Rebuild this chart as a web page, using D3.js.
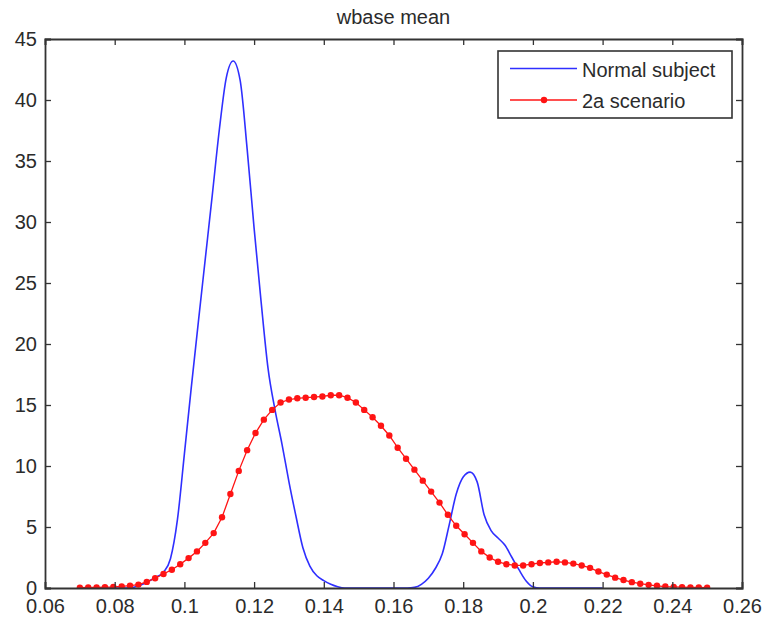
<!DOCTYPE html>
<html>
<head>
<meta charset="utf-8">
<script src="https://cdn.jsdelivr.net/npm/d3@7"></script>
<style>
  html, body { margin: 0; padding: 0; background: #fff; }
  svg { display: block; }
  text { font-family: "Liberation Sans", Arial, sans-serif; fill: #2b2b2b; }
</style>
</head>
<body>
<svg id="chart" width="764" height="624"></svg>
<script>
// Density estimates of wbase mean for the two groups
const titleText = "wbase mean";
const seriesNames = ["Normal subject", "2a scenario"];

const normalX = [0.070,0.072,0.074,0.076,0.078,0.080,0.082,0.084,0.086,0.088,0.090,0.092,0.094,0.096,0.098,
  0.100,0.102,0.104,0.106,0.108,0.110,0.112,0.114,0.116,0.118,0.120,0.122,0.124,0.126,0.128,0.130,
  0.132,0.134,0.136,0.138,0.140,0.142,0.144,0.146,0.148,0.150,0.152,0.154,0.156,0.158,0.160,0.162,
  0.164,0.166,0.168,0.170,0.172,0.174,0.176,0.178,0.180,0.182,0.184,0.186,0.188,0.190,0.192,0.194,
  0.196,0.198,0.200,0.202,0.204,0.206,0.208,0.210,0.212,0.214,0.216,0.218,0.220];
const normalY = [0,0,0,0,0,0,0,0,0.1,0.3,0.6,0.9,1.3,2.4,5.6,
  11.0,16.5,21.8,27.0,32.2,37.5,41.8,43.2,41.6,36.0,29.5,23.5,18.0,14.6,11.8,8.7,
  5.9,3.3,1.8,1.0,0.6,0.3,0.1,0,0,0,0,0,0,0,0,0,
  0,0.05,0.3,0.8,1.6,2.8,5.2,7.7,9.1,9.5,8.7,6.0,4.7,4.1,3.5,2.5,
  1.5,0.6,0.1,0,0,0,0,0,0,0,0,0,0];

const scenarioX = [0.0700,0.0724,0.0748,0.0772,0.0796,0.0820,0.0844,0.0868,0.0892,0.0916,
  0.0940,0.0964,0.0988,0.1012,0.1036,0.1060,0.1084,0.1108,0.1132,0.1156,
  0.1180,0.1204,0.1228,0.1252,0.1276,0.1300,0.1324,0.1348,0.1372,0.1396,
  0.1420,0.1444,0.1468,0.1492,0.1516,0.1540,0.1564,0.1588,0.1612,0.1636,
  0.1660,0.1684,0.1708,0.1732,0.1756,0.1780,0.1804,0.1828,0.1852,0.1876,
  0.1900,0.1924,0.1948,0.1972,0.1996,0.2020,0.2044,0.2068,0.2092,0.2116,
  0.2140,0.2164,0.2188,0.2212,0.2236,0.2260,0.2284,0.2308,0.2332,0.2356,
  0.2380,0.2404,0.2428,0.2452,0.2476,0.2500];
const scenarioY = [0.03,0.04,0.05,0.07,0.09,0.13,0.19,0.28,0.5,0.8,
  1.15,1.5,1.95,2.45,3.0,3.7,4.5,5.8,7.7,9.6,
  11.3,12.7,13.8,14.6,15.2,15.45,15.55,15.6,15.65,15.7,
  15.8,15.8,15.6,15.2,14.6,14.0,13.3,12.5,11.5,10.6,
  9.7,8.8,7.9,7.0,6.0,5.1,4.4,3.7,3.0,2.5,
  2.15,1.95,1.85,1.85,1.95,2.05,2.1,2.15,2.1,2.0,
  1.85,1.65,1.35,1.1,0.85,0.65,0.48,0.35,0.25,0.18,
  0.12,0.09,0.07,0.05,0.04,0.03];

const xTicks = [0.06,0.08,0.1,0.12,0.14,0.16,0.18,0.2,0.22,0.24,0.26];
const yTicks = [0,5,10,15,20,25,30,35,40,45];

const normalColor = "#2f2fff";
const scenarioColor = "#ff1414";
const axisColor = "#333";

const svg = d3.select("#chart");
const margin = { left: 45, right: 22, top: 39, bottom: 36 };
const W = 764, H = 624;
const x = d3.scaleLinear().domain([0.06, 0.26]).range([margin.left, W - margin.right]);
const y = d3.scaleLinear().domain([0, 45]).range([H - margin.bottom, margin.top]);

const fmt = d => String(+d.toFixed(2));

// Clip data to plotting box
svg.append("clipPath").attr("id", "plotClip").append("rect")
  .attr("x", x(0.06)).attr("y", y(45))
  .attr("width", x(0.26) - x(0.06)).attr("height", y(0) - y(45));

const plot = svg.append("g").attr("clip-path", "url(#plotClip)");

const smoothLine = d3.line().curve(d3.curveMonotoneX).x(d => x(d[0])).y(d => y(d[1]));
const line = d3.line().x(d => x(d[0])).y(d => y(d[1]));

const normalData = normalX.map((v, i) => [v, normalY[i]]);
const scenarioData = scenarioX.map((v, i) => [v, scenarioY[i]]);

plot.append("path").datum(normalData)
  .attr("d", smoothLine).attr("fill", "none")
  .attr("stroke", normalColor).attr("stroke-width", 1.6)
  .attr("stroke-linejoin", "round");

plot.append("path").datum(scenarioData)
  .attr("d", line).attr("fill", "none")
  .attr("stroke", scenarioColor).attr("stroke-width", 1.3);

plot.selectAll("circle.pt").data(scenarioData).join("circle")
  .attr("class", "pt")
  .attr("cx", d => x(d[0])).attr("cy", d => y(d[1]))
  .attr("r", 3.2).attr("fill", scenarioColor);

// Axes: ticks pointing inward on all four sides
const tickLen = 6;
const axes = svg.append("g");
const bottomAxis = d3.axisBottom(x).tickValues(xTicks).tickSize(-tickLen).tickFormat(fmt);
const topAxis = d3.axisTop(x).tickValues(xTicks).tickSize(-tickLen).tickFormat("");
const leftAxis = d3.axisLeft(y).tickValues(yTicks).tickSize(-tickLen).tickFormat(fmt);
const rightAxis = d3.axisRight(y).tickValues(yTicks).tickSize(-tickLen).tickFormat("");

const gB = axes.append("g").attr("transform", `translate(0,${y(0)})`).call(bottomAxis);
const gT = axes.append("g").attr("transform", `translate(0,${y(45)})`).call(topAxis);
const gL = axes.append("g").attr("transform", `translate(${x(0.06)},0)`).call(leftAxis);
const gR = axes.append("g").attr("transform", `translate(${x(0.26)},0)`).call(rightAxis);

[gB, gT, gL, gR].forEach(g => {
  g.select(".domain").attr("stroke", axisColor).attr("stroke-width", 1.8);
  g.selectAll(".tick line").attr("stroke", axisColor).attr("stroke-width", 1.3);
  g.selectAll(".tick text").attr("fill", "#2b2b2b")
    .style("font-size", "20px").style("font-family", "Liberation Sans, Arial, sans-serif");
});
gB.selectAll(".tick text").attr("y", 25).attr("dy", null);
gL.selectAll(".tick text").attr("x", -8).attr("dy", "0.33em");

// Title
svg.append("text").attr("x", (x(0.06) + x(0.26)) / 2).attr("y", 24)
  .attr("text-anchor", "middle").style("font-size", "20px").text(titleText);

// Legend
const lg = svg.append("g");
lg.append("rect").attr("x", 498).attr("y", 51).attr("width", 234).attr("height", 67)
  .attr("fill", "#fff").attr("stroke", axisColor).attr("stroke-width", 1.6);
const rows = [
  { name: seriesNames[0], color: normalColor, marker: false, cy: 68.5 },
  { name: seriesNames[1], color: scenarioColor, marker: true, cy: 100 }
];
rows.forEach(r => {
  lg.append("line").attr("x1", 510).attr("x2", 577).attr("y1", r.cy).attr("y2", r.cy)
    .attr("stroke", r.color).attr("stroke-width", r.marker ? 1.3 : 1.6);
  if (r.marker) lg.append("circle").attr("cx", 544).attr("cy", r.cy).attr("r", 3.2).attr("fill", r.color);
  lg.append("text").attr("x", 582).attr("y", r.cy + 8)
    .style("font-size", "20px").text(r.name);
});
</script>
</body>
</html>
